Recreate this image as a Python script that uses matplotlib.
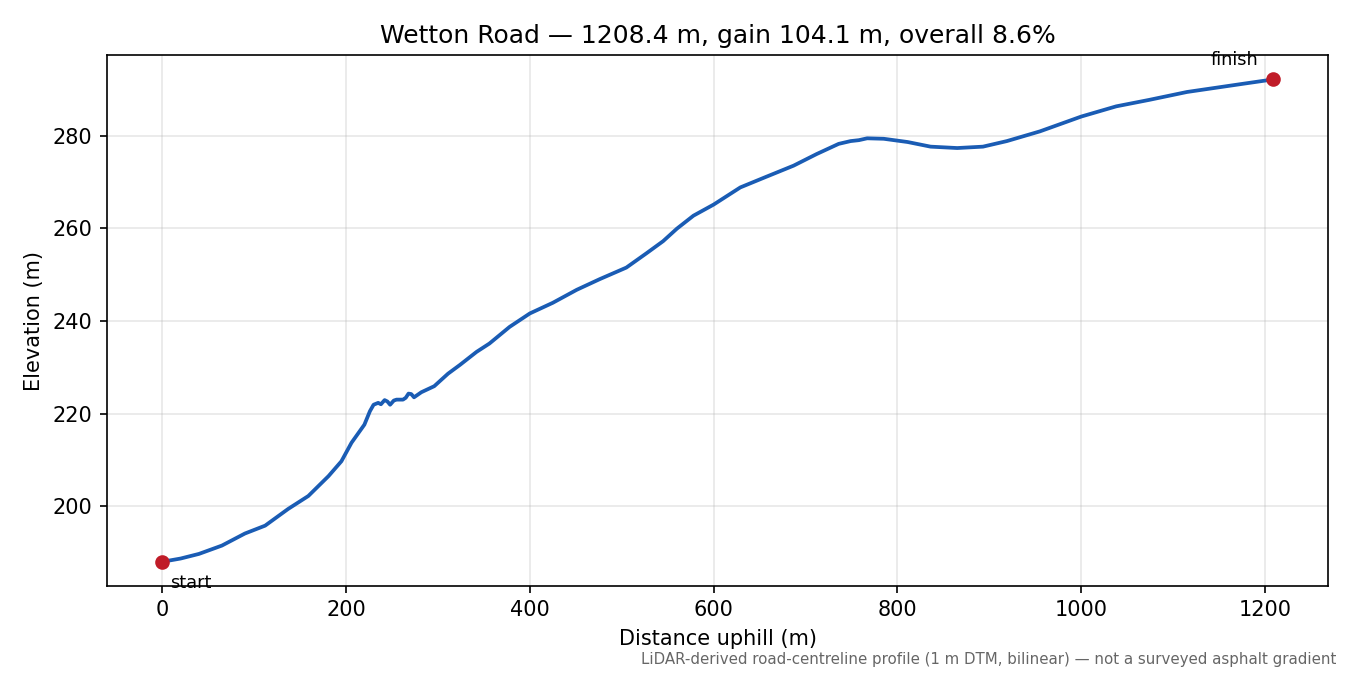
import matplotlib
matplotlib.use("Agg")
import matplotlib.pyplot as plt

# distance along road (m) and elevation (m)
dist = [0, 20, 40, 65, 90, 112, 137, 159, 181, 195, 206, 220, 226, 230, 235,
        238, 242, 245, 248, 252, 255, 262, 265, 268, 271, 274, 282, 296, 311,
        324, 342, 356, 378, 400, 425, 451, 476, 505, 527, 545, 560, 578, 600,
        629, 656, 687, 712, 736, 749, 758, 767, 785, 811, 836, 865, 893, 919,
        955, 1000, 1038, 1074, 1115, 1146, 1177, 1208.4]
elev = [188.0, 188.7, 189.7, 191.5, 194.1, 195.8, 199.4, 202.2, 206.5, 209.7,
        213.7, 217.6, 220.5, 221.9, 222.3, 222.0, 222.9, 222.6, 221.9, 222.8,
        223.0, 223.0, 223.4, 224.3, 224.2, 223.5, 224.6, 225.9, 228.6, 230.5,
        233.3, 235.1, 238.7, 241.6, 243.9, 246.7, 249.0, 251.5, 254.6, 257.2,
        259.9, 262.7, 265.1, 268.8, 271.0, 273.5, 276.0, 278.2, 278.8, 279.0,
        279.4, 279.3, 278.6, 277.6, 277.3, 277.6, 278.8, 280.9, 284.1, 286.3,
        287.7, 289.4, 290.3, 291.2, 292.1]

title = "Wetton Road \u2014 1208.4 m, gain 104.1 m, overall 8.6%"
note = "LiDAR-derived road-centreline profile (1 m DTM, bilinear) \u2014 not a surveyed asphalt gradient"

fig, ax = plt.subplots(figsize=(9, 4.5), dpi=150)
fig.subplots_adjust(left=0.079, right=0.984, top=0.918, bottom=0.132)

ax.plot(dist, elev, color="#1a5cb4", lw=1.8, zorder=2)
ax.plot([dist[0], dist[-1]], [elev[0], elev[-1]], "o", color="#c01c28", ms=6, zorder=3)

ax.annotate("start", (dist[0], elev[0]), xytext=(4, -6), textcoords="offset points",
            ha="left", va="top", fontsize=8.5)
ax.annotate("finish", (dist[-1], elev[-1]), xytext=(-7, 5), textcoords="offset points",
            ha="right", va="bottom", fontsize=8.5)

ax.grid(True, alpha=0.3)
ax.set_xlabel("Distance uphill (m)")
ax.set_ylabel("Elevation (m)")
ax.set_title(title, fontsize=12)

fig.text(0.99, 0.012, note, ha="right", va="bottom", fontsize=7.2, color="#666666")

fig.savefig("out.png")
